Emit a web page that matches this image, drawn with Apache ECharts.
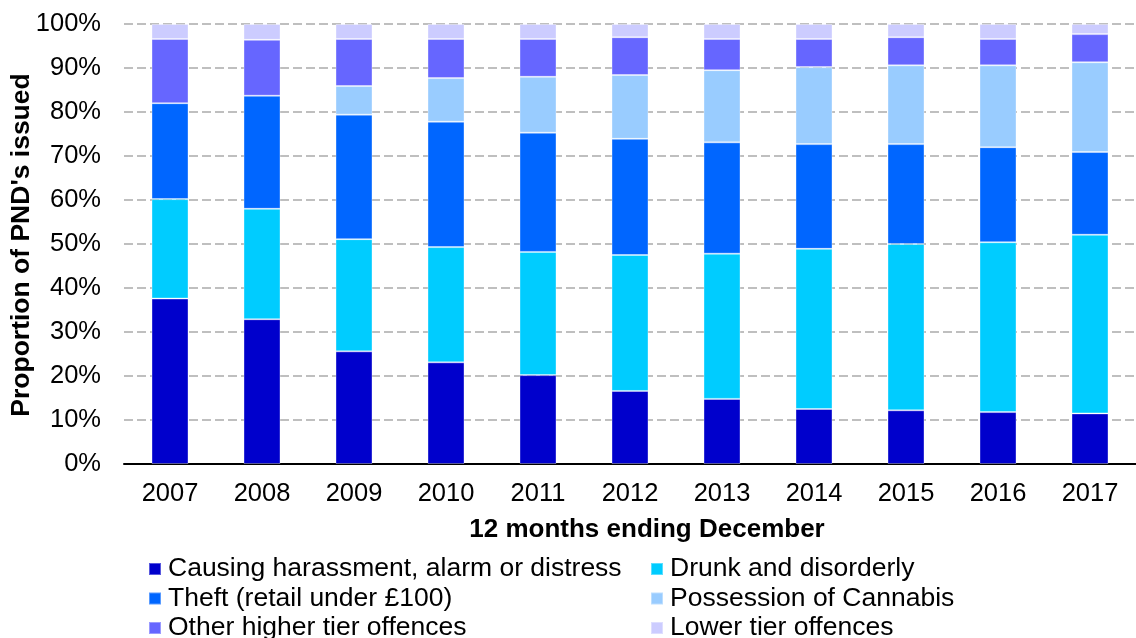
<!DOCTYPE html>
<html>
<head>
<meta charset="utf-8">
<script src="https://cdn.jsdelivr.net/npm/echarts@6/dist/echarts.min.js"></script>
<style>
html,body{margin:0;padding:0;background:#fff;}
#chart{width:1136px;height:638px;}
</style>
</head>
<body>
<div id="chart"></div>
<script>
const categories = ['2007','2008','2009','2010','2011','2012','2013','2014','2015','2016','2017'];
const seriesNames = ['Causing harassment, alarm or distress','Drunk and disorderly','Theft (retail under £100)','Possession of Cannabis','Other higher tier offences','Lower tier offences'];
const harassment = [37.6, 32.9, 25.6, 23.1, 20.2, 16.6, 14.8, 12.5, 12.2, 11.8, 11.5];
const drunk      = [22.6, 25.1, 25.5, 26.2, 28.0, 30.9, 33.0, 36.4, 37.8, 38.6, 40.6];
const theft      = [21.8, 25.7, 28.3, 28.5, 27.1, 26.4, 25.3, 23.8, 22.7, 21.6, 18.8];
const cannabis   = [null, null, 6.5, 9.9, 12.7, 14.5, 16.4, 17.5, 17.9, 18.6, 20.4];
const otherHigher= [14.6, 12.7, 10.7, 8.9, 8.6, 8.6, 7.1, 6.4, 6.4, 6.0, 6.4];
const lowerTier  = [3.4, 3.6, 3.4, 3.4, 3.4, 3.0, 3.4, 3.4, 3.0, 3.4, 2.3];
const yTicks = [0,10,20,30,40,50,60,70,80,90,100];

const colors = ['#0000CC','#00CCFF','#0066FF','#99CCFF','#6666FF','#CCCCFF'];
const values = [harassment, drunk, theft, cannabis, otherHigher, lowerTier];
const FONT = "'Liberation Sans', Arial, sans-serif";

// legend layout: 2 columns x 3 rows
const legendLefts = [148, 650];
const legendTops = [555.5, 585, 614.5];
const legends = seriesNames.map((name, i) => ({
  orient: 'horizontal',
  left: legendLefts[i % 2],
  top: legendTops[Math.floor(i / 2)],
  itemWidth: 12, itemHeight: 12,
  icon: 'rect',
  padding: 0,
  data: [name],
  textStyle: {color: '#000', fontSize: 26.5, fontFamily: FONT, lineHeight: 26, padding: [0, 0, 0, 2]}
}));

const chart = echarts.init(document.getElementById('chart'));
chart.setOption({
  animation: false,
  backgroundColor: '#fff',
  grid: {left: 124, top: 24, width: 1022, height: 440, containLabel: false},
  xAxis: {
    type: 'category',
    data: categories,
    axisLine: {lineStyle: {color: '#000', width: 2}},
    axisTick: {show: false},
    axisLabel: {color: '#000', fontSize: 25.5, fontFamily: FONT, margin: 17}
  },
  yAxis: {
    type: 'value',
    min: yTicks[0], max: yTicks[yTicks.length-1], interval: 10,
    axisLine: {show: false},
    axisTick: {show: false},
    axisLabel: {color: '#000', fontSize: 25.5, fontFamily: FONT, margin: 23, formatter: '{value}%'},
    splitLine: {lineStyle: {color: '#BFBFBF', width: 2, type: [9, 4]}}
  },
  legend: legends,
  graphic: [
    {
      type: 'text', x: 647, y: 530,
      style: {text: '12 months ending December', fill: '#000', font: "bold 26px 'Liberation Sans', Arial, sans-serif", align: 'center', verticalAlign: 'middle', textAlign: 'center', textVerticalAlign: 'middle'}
    },
    {
      type: 'text', x: 22, y: 245, rotation: Math.PI / 2,
      style: {text: "Proportion of PND's issued", fill: '#000', font: "bold 26.5px 'Liberation Sans', Arial, sans-serif", align: 'center', verticalAlign: 'middle', textAlign: 'center', textVerticalAlign: 'middle'}
    }
  ],
  series: seriesNames.map((name, i) => ({
    name: name,
    type: 'bar',
    stack: 'total',
    barWidth: 37,
    data: values[i],
    itemStyle: {color: colors[i], borderColor: 'rgba(255,255,255,0.35)', borderWidth: 1}
  }))
});
</script>
</body>
</html>
